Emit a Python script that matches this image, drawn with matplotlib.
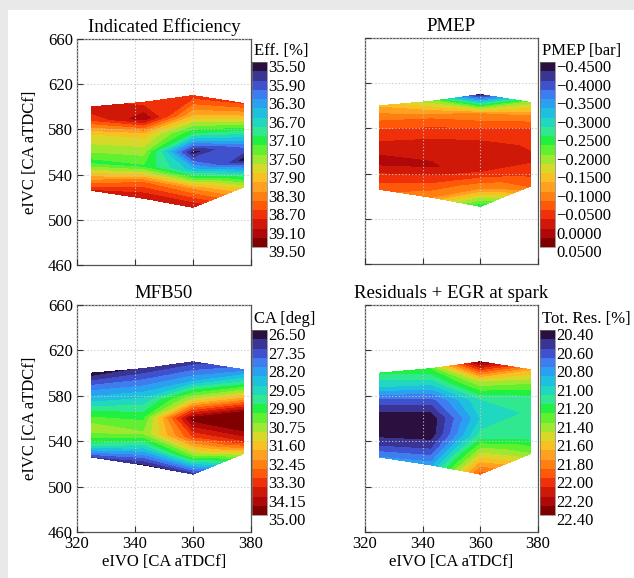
import numpy as np
import matplotlib.pyplot as plt
import matplotlib.transforms as mtransforms
from matplotlib.colors import ListedColormap
from matplotlib.patches import Rectangle
from matplotlib.ticker import FuncFormatter

plt.rcParams['font.family'] = ['Liberation Serif', 'DejaVu Serif']

# DOE points: columns follow eivo, rows go bottom -> top
eivo = [325, 343, 360, 377.5]
eivc = [[526, 519, 511, 529],
        [538, 533, 527, 541],
        [551, 547, 544, 553],
        [563, 561, 560, 566],
        [576, 576, 577, 578],
        [588, 590, 593, 591],
        [600, 604, 610, 603]]

eff = [[38.9, 39.1, 39.1, 37.8],
       [38.1, 38.5, 38.3, 36.8],
       [37.2, 37.25, 36.6, 35.55],
       [37.6, 37.6, 35.55, 36.2],
       [37.9, 38.0, 37.1, 37.0],
       [38.7, 39.25, 38.1, 38.0],
       [39.1, 38.8, 38.8, 38.7]]

pmep = [[-0.065, -0.10, -0.25, -0.07],
        [-0.035, -0.045, -0.10, -0.04],
        [0.012, 0.003, -0.015, -0.02],
        [-0.015, -0.008, -0.008, -0.03],
        [-0.04, -0.035, -0.04, -0.04],
        [-0.08, -0.08, -0.10, -0.10],
        [-0.13, -0.19, -0.44, -0.19]]

mfb50 = [[27.3, 26.8, 27.0, 31.3],
         [29.8, 28.9, 30.6, 33.8],
         [31.1, 30.8, 33.3, 34.95],
         [30.2, 30.2, 34.8, 34.6],
         [28.9, 29.2, 31.2, 32.0],
         [27.9, 28.1, 28.6, 29.7],
         [26.6, 27.0, 27.1, 28.0]]

totres = [[20.8, 20.85, 21.95, 21.4],
          [20.55, 20.6, 21.55, 21.2],
          [20.42, 20.42, 21.15, 21.12],
          [20.45, 20.43, 21.0, 21.12],
          [20.65, 20.65, 21.1, 21.15],
          [21.0, 21.0, 21.5, 21.4],
          [21.2, 21.3, 22.35, 21.7]]

eff_ticks = [35.5, 35.9, 36.3, 36.7, 37.1, 37.5, 37.9, 38.3, 38.7, 39.1, 39.5]
pmep_ticks = [-0.45, -0.40, -0.35, -0.30, -0.25, -0.20, -0.15, -0.10, -0.05, 0.0, 0.05]
mfb_ticks = [26.5, 27.35, 28.2, 29.05, 29.9, 30.75, 31.6, 32.45, 33.3, 34.15, 35.0]
res_ticks = [20.4, 20.6, 20.8, 21.0, 21.2, 21.4, 21.6, 21.8, 22.0, 22.2, 22.4]

titles = ['Indicated Efficiency', 'PMEP', 'MFB50', 'Residuals + EGR at spark']
cb_titles = ['Eff. [%]', 'PMEP [bar]', 'CA [deg]', 'Tot. Res. [%]']
fmts = ['%.2f', '%.4f', '%.2f', '%.2f']

# 20-step palette sampled from the colour bars (low -> high)
palette = ListedColormap([
    '#2b0f3e', '#3a3595', '#3f51cc', '#3f7cf0', '#2aa0f0',
    '#1ec0e0', '#20d8c0', '#30e890', '#20f040', '#60f030',
    '#a0e830', '#d8d828', '#f8c020', '#ffa020', '#ff8010',
    '#ff5808', '#f03008', '#d01808', '#b00808', '#800000'])

W, H = 634, 578
fig = plt.figure(figsize=(W / 100, H / 100), dpi=100)
fig.patch.set_facecolor('white')
# grey shadow strips along top and left edge
fig.patches.append(Rectangle((0, 1 - 10 / H), 1, 10 / H, transform=fig.transFigure,
                             facecolor='#e9e9e9', edgecolor='none', zorder=-10))
fig.patches.append(Rectangle((0, 0), 8 / W, 1, transform=fig.transFigure,
                             facecolor='#e9e9e9', edgecolor='none', zorder=-10))

# pixel boxes: left, top, right, bottom
ax_boxes = [(77, 39, 251, 265), (365, 38, 538, 264), (77, 305, 251, 532), (365, 305, 538, 532)]
cb_boxes = [(252, 62, 267, 247), (540, 62, 555, 247), (252, 330, 267, 515), (540, 330, 555, 515)]

X = np.tile(np.array(eivo), (len(eivc), 1))
Y = np.array(eivc)
datas = [eff, pmep, mfb50, totres]
tick_sets = [eff_ticks, pmep_ticks, mfb_ticks, res_ticks]

for i in range(4):
    l, t, r, b = ax_boxes[i]
    ax = fig.add_axes([l / W, 1 - b / H, (r - l) / W, (b - t) / H])
    ticks = tick_sets[i]
    levels = np.linspace(ticks[0], ticks[-1], 21)
    cs = ax.contourf(X, Y, np.array(datas[i]), levels=levels, cmap=palette)
    ax.set_xlim(320, 380)
    ax.set_ylim(460, 660)
    ax.set_xticks([320, 340, 360, 380])
    ax.set_yticks([460, 500, 540, 580, 620, 660])
    # dotted grid sits on top of the filled contours
    ax.grid(True, linestyle=(0, (1, 2)), color='#c4c4c4', linewidth=0.8)
    ax.set_axisbelow(False)
    ax.tick_params(direction='in', length=4, labelsize=12, color='#333333',
                   top=False, right=False, pad=3)
    for s in ax.spines.values():
        s.set_color('#555555')
        s.set_linewidth(0.9)
    ax.set_title(titles[i], fontsize=13.5, pad=5)
    if i % 2 == 0:
        ax.set_ylabel('eIVC [CA aTDCf]', fontsize=12, labelpad=7)
    else:
        ax.tick_params(labelleft=False)
    if i >= 2:
        ax.set_xlabel('eIVO [CA aTDCf]', fontsize=12, labelpad=1)
    else:
        ax.tick_params(labelbottom=False)

    l, t, r, b = cb_boxes[i]
    cax = fig.add_axes([l / W, 1 - b / H, (r - l) / W, (b - t) / H])
    cb = fig.colorbar(cs, cax=cax)
    cax.invert_yaxis()
    cb.set_ticks(ticks)
    fmt = fmts[i]
    cb.ax.yaxis.set_major_formatter(
        FuncFormatter(lambda v, p, fmt=fmt: (fmt % v).replace('-', '\u2212')))
    cb.ax.tick_params(length=0, labelsize=12, pad=1)
    shift = mtransforms.ScaledTranslation(0, -3 / 72, fig.dpi_scale_trans)
    for lab in cb.ax.get_yticklabels():
        lab.set_transform(lab.get_transform() + shift)
    cb.outline.set_linewidth(0.5)
    cb.outline.set_edgecolor('#777777')
    cax.text(0.1, 1.0, cb_titles[i], transform=cax.transAxes + mtransforms.ScaledTranslation(0, 2 / 72, fig.dpi_scale_trans),
             fontsize=12, ha='left', va='bottom')

fig.savefig('out.png', dpi=100, facecolor=fig.get_facecolor())
